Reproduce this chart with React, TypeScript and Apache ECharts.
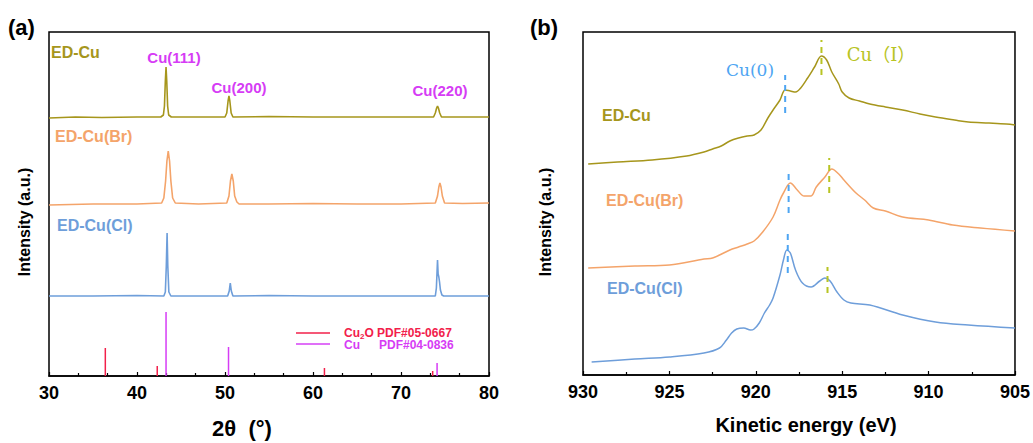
import React, { useEffect, useRef } from "react";
import * as echarts from "echarts";

// ---------- Panel (a): XRD ----------
const xrdTicks = [30, 40, 50, 60, 70, 80];
const xrdEdCu: [number, number][] = [
  [30, 258], [33, 259], [36, 258.5], [40, 259], [42.7, 259], [43.0, 261], [43.12, 270], [43.22, 295], [43.3, 309],
  [43.38, 295], [43.48, 270], [43.6, 261], [43.9, 259], [47, 259], [50.0, 259], [50.2, 263], [50.35, 275],
  [50.45, 280], [50.55, 275], [50.7, 263], [50.9, 259], [55, 259.5], [60, 259], [65, 259], [70, 259],
  [73.7, 259], [73.9, 263], [74.05, 268], [74.15, 270], [74.25, 268], [74.4, 263], [74.6, 259], [77, 259], [80, 259]
];
const xrdEdCuBr: [number, number][] = [
  [30, 171], [35, 172], [40, 172], [42.8, 173], [43.05, 178], [43.25, 195], [43.4, 215], [43.55, 225],
  [43.7, 215], [43.85, 195], [44.05, 178], [44.35, 173], [47, 172], [50.2, 173], [50.45, 180], [50.62, 195],
  [50.78, 202], [50.94, 195], [51.1, 180], [51.35, 174], [51.6, 172], [55, 172], [60, 172.5], [65, 172],
  [70, 172], [73.9, 173], [74.15, 180], [74.3, 189], [74.42, 193], [74.55, 189], [74.7, 180], [74.95, 173],
  [77, 172.5], [80, 173]
];
const xrdEdCuCl: [number, number][] = [
  [30, 80], [35, 80], [40, 80.5], [43.05, 80], [43.22, 84], [43.33, 110], [43.42, 143], [43.5, 110],
  [43.62, 84], [43.85, 80], [50.3, 80], [50.48, 85], [50.6, 93], [50.72, 85], [50.9, 80], [55, 80.5],
  [60, 80], [65, 80], [73.9, 80], [74.02, 88], [74.1, 105], [74.15, 116], [74.22, 102], [74.3, 99],
  [74.38, 94], [74.48, 86], [74.65, 81], [74.85, 80], [77, 80], [80, 80]
];
const refCu2O: [number, number][] = [[36.4, 28], [42.3, 10], [61.3, 8], [73.6, 5]];
const refCu: [number, number][] = [[43.3, 64], [50.4, 29], [74.1, 13]];
const peakLabels = ["Cu(111)", "Cu(200)", "Cu(220)"];
const seriesNames = ["ED-Cu", "ED-Cu(Br)", "ED-Cu(Cl)"];

// ---------- Panel (b): XPS ----------
const xpsTicks = [930, 925, 920, 915, 910, 905];
const xpsEdCu: [number, number][] = [
  [929.7, 211], [928, 213], [926, 215], [924, 219], [923, 223], [922.5, 226], [922, 229], [921.5, 234],
  [921, 237], [920.5, 239], [920.1, 240], [919.7, 245], [919.3, 257], [919, 265], [918.6, 275], [918.3, 285],
  [918, 284], [917.7, 283], [917.4, 287], [917, 297], [916.6, 308], [916.2, 319], [915.9, 315], [915.6, 303],
  [915.2, 291], [915, 283], [914.6, 277], [914, 274], [913.4, 271], [912.5, 268], [911.5, 265], [910.5, 261],
  [909.6, 258], [908.5, 255], [907.7, 253], [906.5, 252], [905.5, 251], [905, 250]
];
const xpsEdCuBr: [number, number][] = [
  [929.7, 107], [927, 109], [925, 110], [923, 116], [922.5, 117], [921.5, 125], [921, 128], [920.5, 131],
  [920.1, 134], [919.6, 143], [919, 158], [918.6, 175], [918.4, 182], [918, 192], [917.6, 185], [917.2, 179],
  [916.8, 179], [916.5, 188], [916, 198], [915.6, 206], [915.2, 201], [914.9, 195], [914.2, 182], [913.7, 175],
  [913.2, 167], [912.5, 164], [911.5, 158], [910, 155], [908.6, 150], [907, 147], [905, 144]
];
const xpsEdCuCl: [number, number][] = [
  [929.5, 13], [927, 16], [925, 18], [923, 22], [922.1, 27], [921.7, 35], [921.4, 42], [921.1, 46],
  [920.7, 47], [920.3, 45], [920.1, 46], [919.8, 52], [919.5, 62], [919.2, 70], [919, 77], [918.6, 100],
  [918.4, 115], [918.2, 125], [918, 122], [917.7, 105], [917.3, 92], [916.8, 88], [916.3, 94], [916, 97],
  [915.7, 94], [915.3, 83], [914.9, 75], [914.5, 72], [913.4, 70], [911.5, 60], [909.6, 53], [907.7, 50], [905, 47]
];
// [position, bottom, top]
const cu0Marks: [number, number, number][] = [[918.3, 262, 300], [918.1, 162, 202], [918.15, 102, 142]];
const cu1Marks: [number, number, number][] = [[916.2, 300, 335], [915.75, 182, 217], [915.85, 82, 108]];

const C_CU = "#A6961C";
const C_BR = "#F4A46A";
const C_CL = "#6E9EDA";
const C_MAG = "#D63CF5";
const C_RED = "#F2204A";
const C_REFCU = "#E070F8";
const C_CU0 = "#4EA5F2";
const C_CU1 = "#B8C423";

const FONT = "Liberation Sans, Arial, Helvetica, sans-serif";

function stickSeries(data: [number, number][], color: string) {
  return {
    type: "custom",
    xAxisIndex: 0,
    yAxisIndex: 0,
    data,
    renderItem: (params: any, api: any) => {
      const p0 = api.coord([api.value(0), 0]);
      const p1 = api.coord([api.value(0), api.value(1)]);
      return {
        type: "line",
        shape: { x1: p0[0], y1: p0[1], x2: p1[0], y2: p1[1] },
        style: { stroke: color, lineWidth: 1.5 },
      };
    },
  };
}

function dashSeries(data: [number, number, number][], color: string) {
  return {
    type: "custom",
    xAxisIndex: 1,
    yAxisIndex: 1,
    data,
    z: 5,
    renderItem: (params: any, api: any) => {
      const p0 = api.coord([api.value(0), api.value(1)]);
      const p1 = api.coord([api.value(0), api.value(2)]);
      return {
        type: "line",
        shape: { x1: p0[0], y1: p0[1], x2: p1[0], y2: p1[1] },
        style: { stroke: color, lineWidth: 2, lineDash: [6, 5] },
      };
    },
  };
}

function lineSeries(data: [number, number][], color: string, axis: number, width = 1.6, smooth: number | boolean = false) {
  return {
    type: "line",
    xAxisIndex: axis,
    yAxisIndex: axis,
    data,
    showSymbol: false,
    symbol: "none",
    smooth,
    lineStyle: { color, width },
    z: 3,
  };
}

function txt(text: string, x: number, y: number, fill: string, size: number, opts: any = {}) {
  return {
    type: "text",
    x,
    y,
    rotation: opts.rotation || 0,
    style: {
      text,
      fill,
      fontSize: size,
      fontWeight: opts.weight || "bold",
      fontFamily: opts.family || FONT,
      align: opts.align || "left",
      verticalAlign: "middle",
    },
  };
}

export default function App() {
  const ref = useRef<HTMLDivElement>(null);
  useEffect(() => {
    if (!ref.current) return;
    const chart = echarts.init(ref.current, undefined, { renderer: "svg" });
    const axisLabel = { color: "#000", fontSize: 18, fontWeight: "bold", fontFamily: FONT, margin: 8 };
    const option: any = {
      animation: false,
      backgroundColor: "#fff",
      grid: [
        { left: 49, top: 32, width: 440, height: 344, show: true, borderColor: "#000", borderWidth: 1.5, backgroundColor: "transparent" },
        { left: 583, top: 32, width: 433, height: 343, show: true, borderColor: "#000", borderWidth: 1.5, backgroundColor: "transparent" },
      ],
      xAxis: [
        {
          type: "value", gridIndex: 0, min: xrdTicks[0], max: xrdTicks[xrdTicks.length - 1], interval: 10,
          axisLine: { show: true, lineStyle: { color: "#000", width: 1.5 } },
          axisTick: { show: true, inside: true, length: 4, lineStyle: { color: "#000", width: 1.2 } },
          minorTick: { show: true, splitNumber: 3, length: 3, lineStyle: { color: "#000", width: 1.2 } },
          splitLine: { show: false },
          axisLabel,
        },
        {
          type: "value", gridIndex: 1, min: xpsTicks[xpsTicks.length - 1], max: xpsTicks[0], interval: 5, inverse: true,
          axisLine: { show: true, lineStyle: { color: "#000", width: 1.5 } },
          axisTick: { show: true, inside: true, length: 4, lineStyle: { color: "#000", width: 1.2 } },
          minorTick: { show: true, splitNumber: 2, length: 3, lineStyle: { color: "#000", width: 1.2 } },
          splitLine: { show: false },
          axisLabel,
        },
      ],
      yAxis: [
        { type: "value", gridIndex: 0, min: 0, max: 344, axisLine: { show: false }, axisTick: { show: false }, axisLabel: { show: false }, splitLine: { show: false } },
        { type: "value", gridIndex: 1, min: 0, max: 343, axisLine: { show: false }, axisTick: { show: false }, axisLabel: { show: false }, splitLine: { show: false } },
      ],
      series: [
        lineSeries(xrdEdCu, C_CU, 0),
        lineSeries(xrdEdCuBr, C_BR, 0),
        lineSeries(xrdEdCuCl, C_CL, 0),
        stickSeries(refCu2O, C_RED),
        stickSeries(refCu, C_MAG),
        lineSeries(xpsEdCu, C_CU, 1, 1.5, 0.35),
        lineSeries(xpsEdCuBr, C_BR, 1, 1.5, 0.35),
        lineSeries(xpsEdCuCl, C_CL, 1, 1.5, 0.35),
        dashSeries(cu0Marks, C_CU0),
        dashSeries(cu1Marks, C_CU1),
      ],
      graphic: [
        txt("(a)", 8, 27, "#000", 22),
        txt("(b)", 530, 27, "#000", 22),
        // panel a labels
        txt(seriesNames[0], 51, 52, C_CU, 16),
        txt(seriesNames[1], 55, 136, C_BR, 16),
        txt(seriesNames[2], 57, 225, C_CL, 16),
        txt(peakLabels[0], 174, 57, C_MAG, 15, { align: "center" }),
        txt(peakLabels[1], 239, 87, C_MAG, 15, { align: "center" }),
        txt(peakLabels[2], 440, 90, C_MAG, 15, { align: "center" }),
        // legend a
        { type: "line", shape: { x1: 296, y1: 333, x2: 330, y2: 333 }, style: { stroke: C_RED, lineWidth: 1.5 } },
        { type: "line", shape: { x1: 296, y1: 344, x2: 330, y2: 344 }, style: { stroke: C_REFCU, lineWidth: 2 } },
        {
          type: "text", x: 344, y: 333,
          style: {
            text: "{a|Cu}{s|2}{a|O PDF#05-0667}",
            verticalAlign: "middle",
            rich: {
              a: { fill: C_RED, fontSize: 12, fontWeight: "bold", fontFamily: FONT },
              s: { fill: C_RED, fontSize: 8, fontWeight: "bold", fontFamily: FONT, padding: [6, 0, 0, 0] },
            },
          },
        },
        txt("Cu", 344, 345, C_MAG, 12),
        txt("PDF#04-0836", 379, 345, C_MAG, 12),
        // axis titles
        txt("2θ  (°)", 242, 428, "#000", 22, { align: "center" }),
        txt("Kinetic energy (eV)", 806, 425, "#000", 20, { align: "center" }),
        txt("Intensity (a.u.)", 24, 222, "#000", 16, { align: "center", rotation: Math.PI / 2 }),
        txt("Intensity (a.u.)", 545, 222, "#000", 16, { align: "center", rotation: Math.PI / 2 }),
        // panel b labels
        txt(seriesNames[0], 602, 115, C_CU, 16),
        txt(seriesNames[1], 606, 200, C_BR, 16),
        txt(seriesNames[2], 607, 288, C_CL, 16),
        txt("Cu(0)", 750, 70, C_CU0, 17, { align: "center", weight: "normal", family: "DejaVu Serif, serif" }),
        txt("Cu（Ⅰ）", 881, 54, C_CU1, 18, { align: "center", weight: "normal", family: "DejaVu Serif, Noto Sans CJK SC, serif" }),
      ],
    };
    chart.setOption(option);
    return () => chart.dispose();
  }, []);
  return <div ref={ref} style={{ position: "fixed", left: 0, top: 0, width: 1033, height: 443 }} />;
}
